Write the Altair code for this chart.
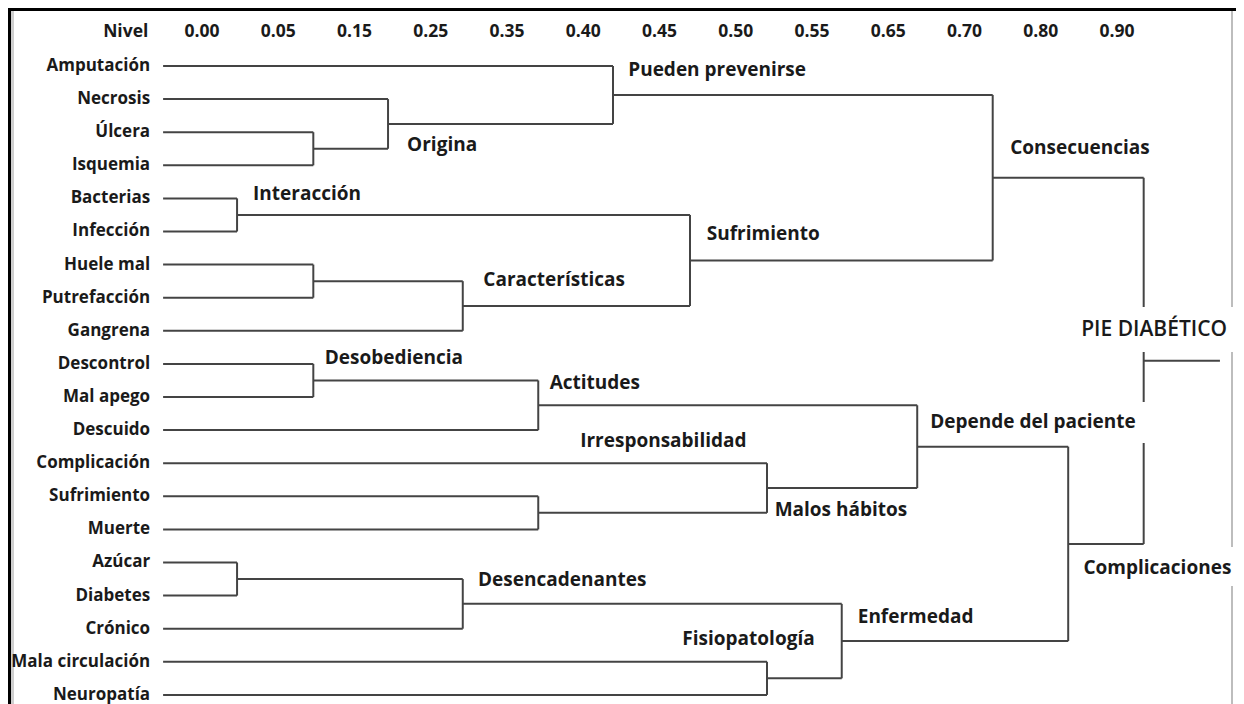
import altair as alt
import pandas as pd

# ---------------- data ----------------
leaves = ["Amputación", "Necrosis", "Úlcera", "Isquemia", "Bacterias", "Infección",
          "Huele mal", "Putrefacción", "Gangrena", "Descontrol", "Mal apego", "Descuido",
          "Complicación", "Sufrimiento", "Muerte", "Azúcar", "Diabetes", "Crónico",
          "Mala circulación", "Neuropatía"]

level_ticks = ["Nivel", "0.00", "0.05", "0.15", "0.25", "0.35", "0.40", "0.45",
               "0.50", "0.55", "0.65", "0.70", "0.80", "0.90"]
tick_slots = [-1, 0, 1, 2, 3, 4, 5, 6, 7, 8, 9, 10, 11, 12]

leaf_start = -0.51          # level where leaf branches begin
root_end = 13.35            # end of root stub

merge_id = ["ulc_isq", "origina", "prevenir", "bact_inf", "huele_putr", "caract",
            "sufr", "consec", "desob", "actit", "suf_muer", "malos", "depende",
            "azu_dia", "desenc", "fisio", "enferm", "complic", "root"]
merge_left = ["Úlcera", "Necrosis", "Amputación", "Bacterias", "Huele mal", "huele_putr",
              "bact_inf", "prevenir", "Descontrol", "desob", "Sufrimiento", "Complicación",
              "actit", "Azúcar", "azu_dia", "Mala circulación", "desenc", "depende", "consec"]
merge_right = ["Isquemia", "ulc_isq", "origina", "Infección", "Putrefacción", "Gangrena",
               "caract", "sufr", "Mal apego", "Descuido", "Muerte", "suf_muer", "malos",
               "Diabetes", "Crónico", "Neuropatía", "fisio", "enferm", "complic"]
merge_level = [1.46, 2.44, 5.39, 0.46, 1.46, 3.42, 6.40, 10.37, 1.46, 4.41, 4.41, 7.41,
               9.38, 0.46, 3.42, 7.41, 8.39, 11.36, 12.35]

node_text = ["Pueden prevenirse", "Origina", "Interacción", "Características", "Sufrimiento",
             "Consecuencias", "Desobediencia", "Actitudes", "Irresponsabilidad",
             "Malos hábitos", "Depende del paciente", "Desencadenantes", "Fisiopatología",
             "Enfermedad", "Complicaciones"]
node_text_level = [5.59, 2.69, 0.67, 3.69, 6.62, 10.60, 1.61, 4.56, 4.96, 7.51, 9.55,
                   3.62, 6.30, 8.60, 11.56]
node_text_row = [0.12, 2.39, 3.88, 6.48, 5.08, 2.49, 8.82, 9.58, 11.34, 13.41, 10.77,
                 15.53, 17.30, 16.66, 15.18]

root_text = "PIE DIABÉTICO"
root_text_level = 11.53
root_text_row = 7.98

# white boxes behind labels that interrupt lines
box_x = [11.47, 9.48, 11.50]
box_x2 = [13.70, 12.43, 13.70]
box_y = [7.28, 10.15, 14.53]
box_y2 = [8.64, 11.39, 15.71]

# ---------------- build tables ----------------
pos_y = {name: float(i) for i, name in enumerate(leaves)}
pos_x = {name: leaf_start for name in leaves}
segs = []
for mid, l, r, lev in zip(merge_id, merge_left, merge_right, merge_level):
    yl, yr = pos_y[l], pos_y[r]
    segs.append(dict(x=lev, x2=lev, y=yl, y2=yr))
    segs.append(dict(x=pos_x[l], x2=lev, y=yl, y2=yl))
    segs.append(dict(x=pos_x[r], x2=lev, y=yr, y2=yr))
    pos_y[mid] = (yl + yr) / 2
    pos_x[mid] = lev
segs.append(dict(x=pos_x["root"], x2=root_end, y=pos_y["root"], y2=pos_y["root"]))
seg_df = pd.DataFrame(segs)

leaf_df = pd.DataFrame({"label": leaves, "row": list(range(len(leaves))),
                        "lev": [leaf_start - 0.17] * len(leaves)})
tick_df = pd.DataFrame({"label": level_ticks, "slot": tick_slots})
node_df = pd.DataFrame({"label": node_text, "lev": node_text_level, "row": node_text_row})
root_df = pd.DataFrame({"label": [root_text], "lev": [root_text_level], "row": [root_text_row]})
box_df = pd.DataFrame({"x": box_x, "x2": box_x2, "y": box_y, "y2": box_y2})

W, H = 1228, 696
xs = alt.Scale(domain=[-2.544, (W - 194) / 76.25], nice=False, zero=False)
ys = alt.Scale(domain=[19.275, -1.752], nice=False, zero=False)
FONT = "Open Sans"
LINE = "#444444"
TXT = "#1a1a1a"

one = pd.DataFrame({"a": [0]})
frame_top = alt.Chart(one).mark_rule(color="#000000", strokeWidth=3).encode(
    x=alt.value(0), x2=alt.value(W), y=alt.value(1.5))
frame_left = alt.Chart(one).mark_rule(color="#000000", strokeWidth=3).encode(
    x=alt.value(1.5), y=alt.value(0), y2=alt.value(H))
frame_left2 = alt.Chart(one).mark_rule(color="#cfcfcf", strokeWidth=3).encode(
    x=alt.value(4.5), y=alt.value(3), y2=alt.value(H))
frame_right = alt.Chart(one).mark_rule(color="#bdbdbd", strokeWidth=2).encode(
    x=alt.value(1224), y=alt.value(3), y2=alt.value(H))

lines = alt.Chart(seg_df).mark_rule(color=LINE, strokeWidth=2).encode(
    x=alt.X("x:Q", scale=xs, axis=None), x2="x2:Q",
    y=alt.Y("y:Q", scale=ys, axis=None), y2="y2:Q")

boxes = alt.Chart(box_df).mark_rect(color="white").encode(
    x=alt.X("x:Q", scale=xs, axis=None), x2="x2:Q",
    y=alt.Y("y:Q", scale=ys, axis=None), y2="y2:Q")

ticks = alt.Chart(tick_df).mark_text(font=FONT, fontSize=17.5, fontWeight="bold", color=TXT,
                                     baseline="middle", align="center").encode(
    x=alt.X("slot:Q", scale=xs, axis=None), y=alt.value(24), text="label:N")

leaf_txt = alt.Chart(leaf_df).mark_text(font=FONT, fontSize=17, fontWeight="bold", color=TXT,
                                        baseline="middle", align="right").encode(
    x=alt.X("lev:Q", scale=xs, axis=None), y=alt.Y("row:Q", scale=ys, axis=None), text="label:N")

node_txt = alt.Chart(node_df).mark_text(font=FONT, fontSize=19, fontWeight="bold", color=TXT,
                                        baseline="middle", align="left").encode(
    x=alt.X("lev:Q", scale=xs, axis=None), y=alt.Y("row:Q", scale=ys, axis=None), text="label:N")

root_txt = alt.Chart(root_df).mark_text(font=FONT, fontSize=21, fontWeight=600, color=TXT,
                                        baseline="middle", align="left").encode(
    x=alt.X("lev:Q", scale=xs, axis=None), y=alt.Y("row:Q", scale=ys, axis=None), text="label:N")

chart = alt.layer(frame_right, lines, boxes, frame_top, frame_left2, frame_left,
                  ticks, leaf_txt, node_txt, root_txt).properties(
    width=W, height=H, padding=0, autosize=alt.AutoSizeParams(type="none")
).configure_view(stroke=None).configure(background="white")

chart.save("out.html", embed_options={"renderer": "svg", "actions": False})
